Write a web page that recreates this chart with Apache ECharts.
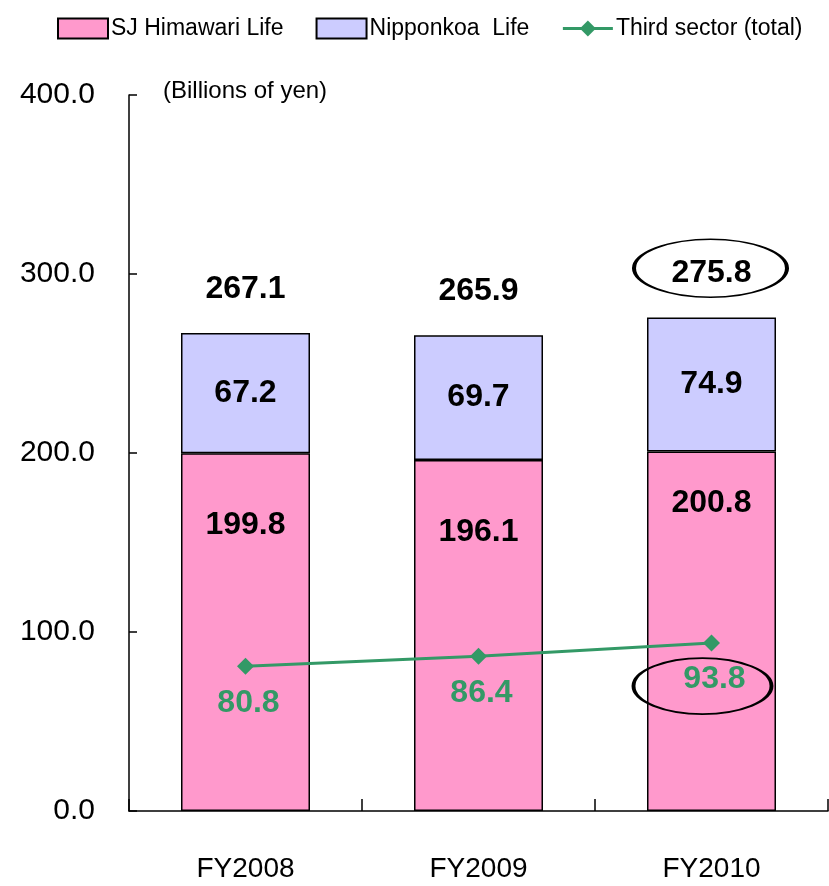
<!DOCTYPE html>
<html lang="en">
<head>
  <meta charset="UTF-8">
  <title>Third sector</title>
  <script src="https://cdn.jsdelivr.net/npm/echarts@6/dist/echarts.min.js"></script>
  <style>
    html, body { margin: 0; padding: 0; background: #fff; }
    #chart { width: 829px; height: 886px; }
  </style>
</head>
<body>
  <div id="chart"></div>
  <script>
    var aYears = ['FY2008', 'FY2009', 'FY2010'];
    var aHimawari = [199.8, 196.1, 200.8];
    var aNipponkoa = [67.2, 69.7, 74.9];
    var aTotal = [267.1, 265.9, 275.8];
    var aThird = [80.8, 86.4, 93.8];

    var sFont = 'Liberation Sans, Arial, sans-serif';
    var sEllipse = 'path://M0,50 A50,50 0 1,1 100,50 A50,50 0 1,1 0,50 Z';
    // pink labels sit lower in the first two bars
    var aPinkShift = [0, 0, -20];

    var oChart = echarts.init(document.getElementById('chart'));
    var chartopt = {
      animation: false,
      title: {
        text: '(Billions of yen)',
        left: 158,
        top: 74,
        textStyle: { fontFamily: sFont, fontSize: 24, fontWeight: 'normal', color: '#000' }
      },
      legend: {
        left: 52,
        top: 12,
        itemWidth: 50,
        itemHeight: 20,
        itemGap: 32,
        textStyle: { fontFamily: sFont, fontSize: 23, color: '#000', padding: [0, 0, 0, -2] },
        data: [
          { name: 'SJ Himawari Life', icon: 'rect' },
          { name: 'Nipponkoa  Life', icon: 'rect' },
          { name: 'Third sector (total)', lineStyle: { width: 3 } }
        ]
      },
      grid: { left: 129, right: 1, top: 95, bottom: 75 },
      xAxis: {
        type: 'category',
        data: aYears,
        axisLine: { lineStyle: { color: '#000', width: 1.5 } },
        axisTick: { show: true, inside: true, length: 12, lineStyle: { color: '#000', width: 1.5 } },
        axisLabel: { margin: 44, fontFamily: sFont, fontSize: 28, color: '#000' }
      },
      yAxis: {
        type: 'value',
        min: 0,
        max: 400,
        interval: 100,
        splitLine: { show: false },
        axisLine: { show: true, lineStyle: { color: '#000', width: 1.5 } },
        axisTick: { show: true, inside: true, length: 8, lineStyle: { color: '#000', width: 1.5 } },
        axisLabel: {
          margin: 34, fontFamily: sFont, fontSize: 30, color: '#000',
          formatter: function (v) { return v.toFixed(1); }
        }
      },
      series: [
        {
          name: 'SJ Himawari Life',
          type: 'bar',
          stack: 'total',
          barWidth: 129,
          itemStyle: { color: '#FF99CC', borderColor: '#000', borderWidth: 1.5 },
          data: aHimawari.map(function (v, i) {
            return { value: v, label: { offset: [0, aPinkShift[i]] } };
          }),
          label: {
            show: true, position: 'insideTop', distance: 56,
            fontFamily: sFont, fontSize: 32, fontWeight: 'bold', color: '#000',
            formatter: function (p) { return p.value.toFixed(1); }
          }
        },
        {
          name: 'Nipponkoa  Life',
          type: 'bar',
          stack: 'total',
          barWidth: 129,
          itemStyle: { color: '#CCCCFF', borderColor: '#000', borderWidth: 1.5 },
          data: aNipponkoa,
          label: {
            show: true, position: 'inside',
            fontFamily: sFont, fontSize: 32, fontWeight: 'bold', color: '#000',
            formatter: function (p) { return p.value.toFixed(1); }
          }
        },
        {
          name: 'totals',
          type: 'scatter',
          symbolSize: 0,
          itemStyle: { opacity: 1 },
          data: aTotal,
          label: {
            show: true, position: 'top', distance: 28,
            fontFamily: sFont, fontSize: 32, fontWeight: 'bold', color: '#000',
            formatter: function (p) { return p.value.toFixed(1); }
          },
          markPoint: {
            symbol: sEllipse,
            symbolSize: [153, 58],
            symbolOffset: [-1, -49],
            itemStyle: { color: 'rgba(0,0,0,0)', borderColor: '#000', borderWidth: 2.5 },
            label: { show: false },
            data: [{ coord: [2, aTotal[2]] }]
          }
        },
        {
          name: 'Third sector (total)',
          type: 'line',
          symbol: 'diamond',
          symbolSize: 17,
          itemStyle: { color: '#339966' },
          lineStyle: { color: '#339966', width: 3 },
          data: aThird,
          label: {
            show: true, position: 'bottom', distance: 12, offset: [3, 0],
            fontFamily: sFont, fontSize: 32, fontWeight: 'bold', color: '#339966',
            formatter: function (p) { return p.value.toFixed(1); }
          },
          markPoint: {
            symbol: sEllipse,
            symbolSize: [138, 56],
            symbolOffset: [-9, 43],
            itemStyle: { color: 'rgba(0,0,0,0)', borderColor: '#000', borderWidth: 2.5 },
            label: { show: false },
            data: [{ coord: [2, aThird[2]] }]
          }
        }
      ]
    };
    oChart.setOption(chartopt);
  </script>
</body>
</html>
